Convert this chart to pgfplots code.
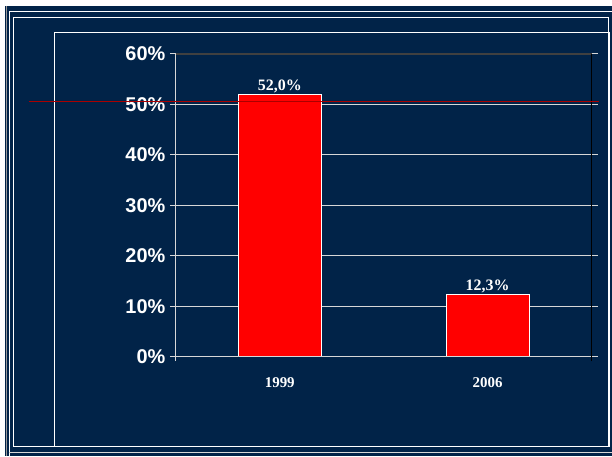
\documentclass[border=0pt]{standalone}
\usepackage{pgfplots}
\pgfplotsset{compat=1.18}
\usepackage{fontspec}
\setmainfont{Liberation Serif}
\setsansfont{Liberation Sans}
\definecolor{navy}{RGB}{1,35,72}
\definecolor{lgray}{RGB}{215,215,215}
\definecolor{refline}{RGB}{170,0,0}
\begin{document}
\begin{tikzpicture}[x=1bp,y=1bp]
% page and slide frame (pixel coords, y flipped: Y = 456 - y)
\fill[white] (0,0) rectangle (612,456);
\fill[navy] (5,0) rectangle (612,450);
\draw[gray!80, line width=0.8bp] (6,0) -- (6,450);
\draw[white, line width=1bp] (9.5,0) -- (9.5,444) -- (612,444);
\draw[white, line width=1bp] (13.5,9) rectangle (609,438);
\draw[lgray, line width=0.8bp] (9.5,3) -- (612,3);
\draw[white, line width=1bp] (54.5,9) rectangle (610,423);
\begin{axis}[
  at={(176bp,99bp)}, anchor=south west,
  width=416bp, height=303bp, scale only axis,
  clip=false,
  xmin=-0.5, xmax=1.5, ymin=0, ymax=60,
  axis line style={draw=none},
  xtick={0,1}, xticklabels={1999,2006},
  major x tick style={draw=none},
  xticklabel style={font=\rmfamily\bfseries\fontsize{15}{18}\selectfont, yshift=-11bp, text=white},
  ytick={0,10,...,60},
  yticklabel={\pgfmathprintnumber{\tick}\%},
  /pgf/number format/assume math mode=true,
  yticklabel style={font=\sffamily\bfseries\fontsize{20}{24}\selectfont, text=white, xshift=-1bp},
  tick align=outside,
  major tick length=6bp,
  major y tick style={lgray, line width=1bp},
  ymajorgrids,
  grid style={lgray, line width=1bp},
]
\addplot[ybar, bar width=83bp, fill=red, draw=white, line width=1bp,
  nodes near coords={\pgfmathprintnumber[fixed,fixed zerofill,precision=1,use comma]{\pgfplotspointmeta}\%},
  every node near coord/.append style={font=\rmfamily\bfseries\fontsize{16}{19}\selectfont, text=white, inner sep=1bp}]
  coordinates {(0,52.0) (1,12.3)};
\draw[lgray, line width=1.2bp] (rel axis cs:0,-0.015) -- (rel axis cs:0,1);
\draw[lgray, line width=1bp] (rel axis cs:0,0) -- (rel axis cs:1,0);
\draw[black!75, line width=1.2bp] (rel axis cs:0,1) -- (rel axis cs:1,1);
\draw[black, line width=1.2bp] (rel axis cs:1,-0.015) -- (rel axis cs:1,1);
\end{axis}
% reference line across the slide (drawn over the chart, as in the original)
\draw[refline, line width=1.5bp] (29,354.5) -- (599,354.5);
\end{tikzpicture}
\end{document}
